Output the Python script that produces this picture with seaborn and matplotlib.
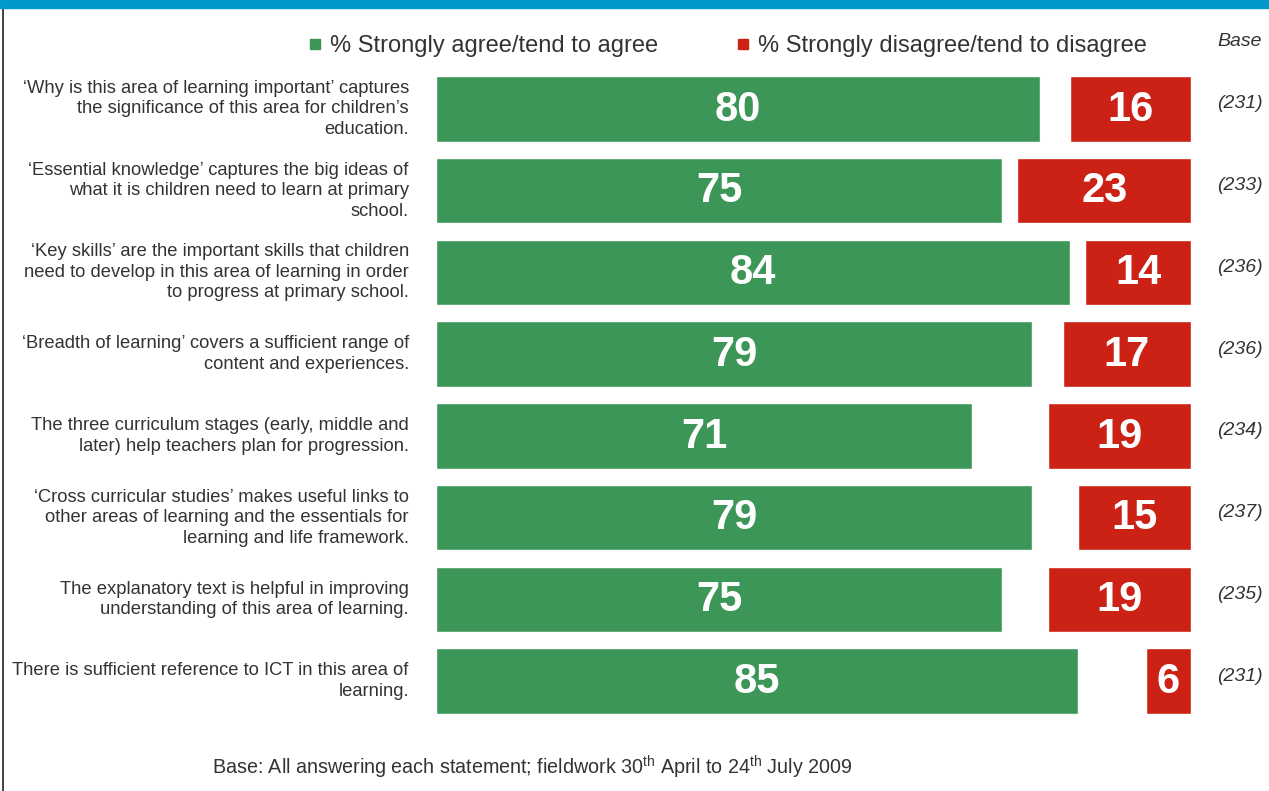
import matplotlib
matplotlib.use("Agg")
import matplotlib.pyplot as plt
import seaborn as sns
import pandas as pd
from matplotlib.patches import Rectangle
from matplotlib.lines import Line2D

sns.set_style("white")
plt.rcParams['font.family'] = ['Liberation Sans', 'DejaVu Sans']
plt.rcParams['mathtext.fontset'] = 'custom'
plt.rcParams['mathtext.rm'] = 'Liberation Sans'

statements = [
    "\u2018Why is this area of learning important\u2019 captures\nthe significance of this area for children\u2019s\neducation.",
    "\u2018Essential knowledge\u2019 captures the big ideas of\nwhat it is children need to learn at primary\nschool.",
    "\u2018Key skills\u2019 are the important skills that children\nneed to develop in this area of learning in order\nto progress at primary school.",
    "\u2018Breadth of learning\u2019 covers a sufficient range of\ncontent and experiences.",
    "The three curriculum stages (early, middle and\nlater) help teachers plan for progression.",
    "\u2018Cross curricular studies\u2019 makes useful links to\nother areas of learning and the essentials for\nlearning and life framework.",
    "The explanatory text is helpful in improving\nunderstanding of this area of learning.",
    "There is sufficient reference to ICT in this area of\nlearning.",
]
agree = [80, 75, 84, 79, 71, 79, 75, 85]
disagree = [16, 23, 14, 17, 19, 15, 19, 6]
bases = [231, 233, 236, 236, 234, 237, 235, 231]

green = "#3C9657"
red = "#CC2216"
blue = "#0099CC"
txt = "#333333"

df = pd.DataFrame({"statement": statements, "agree": agree, "disagree": disagree})

fig = plt.figure(figsize=(12.69, 7.91), dpi=100)
ax = fig.add_axes([436/1269, 1-722/791, 755/1269, 654/791])

sns.barplot(data=df, x="agree", y="statement", orient="h", color=green,
            saturation=1, width=0.8, ax=ax)
ax.set_xlim(0, 100)

# red bars hang from the right edge on a reversed twin axis
ax2 = ax.twiny()
sns.barplot(data=df, x="disagree", y="statement", orient="h", color=red,
            saturation=1, width=0.8, ax=ax2)
ax2.set_xlim(100, 0)

for a in (ax, ax2):
    a.set_xlabel("")
    a.set_ylabel("")
    a.set_xticks([])
    a.set_yticks([])
    for s in a.spines.values():
        s.set_visible(False)
ax.set_ylim(len(statements) - 0.5, -0.5)

# all text on the top axis so it sits over both sets of bars
for i, (ag, dis) in enumerate(zip(agree, disagree)):
    ax2.text(ag / 2, i + 0.01, str(ag), ha="center", va="center", color="white",
             fontsize=30, fontweight="bold", transform=ax.transData)
    ax2.text(100 - dis / 2, i + 0.01, str(dis), ha="center", va="center", color="white",
             fontsize=30, fontweight="bold", transform=ax.transData)
    ax2.text(-3.6, i, statements[i], ha="right", va="center", color=txt,
             fontsize=13.2, linespacing=1.27, transform=ax.transData)
    ax2.text(109.5, i - 0.06, "(%d)" % bases[i], ha="right", va="center",
             color=txt, fontsize=14, style="italic", clip_on=False,
             transform=ax.transData)

# header, legend, footnote
fig.patches.append(Rectangle((0, 1 - 8/791), 1, 8/791, transform=fig.transFigure,
                             color=blue, zorder=5))
fig.lines.append(Line2D([3/1269, 3/1269], [0, 1 - 8/791], transform=fig.transFigure,
                        color="#222222", lw=1.2))
fig.patches.append(Rectangle((310/1269, 1 - 49/791), 10/1269, 10/791,
                             transform=fig.transFigure, color=green))
fig.text(330/1269, 1 - 46/791, "% Strongly agree/tend to agree", ha="left",
         va="center", fontsize=17, color=txt)
fig.patches.append(Rectangle((738/1269, 1 - 49/791), 10/1269, 10/791,
                             transform=fig.transFigure, color=red))
fig.text(758/1269, 1 - 46/791, "% Strongly disagree/tend to disagree", ha="left",
         va="center", fontsize=17, color=txt)
fig.text(1262/1269, 1 - 42/791, "Base", ha="right", va="center", fontsize=14,
         style="italic", color=txt)
fig.text(212/1269, 1 - 767/791,
         r"Base: All answering each statement; fieldwork 30$^{\rm th}$ April to 24$^{\rm th}$ July 2009",
         ha="left", va="center", fontsize=14.2, color=txt)

fig.savefig("out.png", dpi=100)
